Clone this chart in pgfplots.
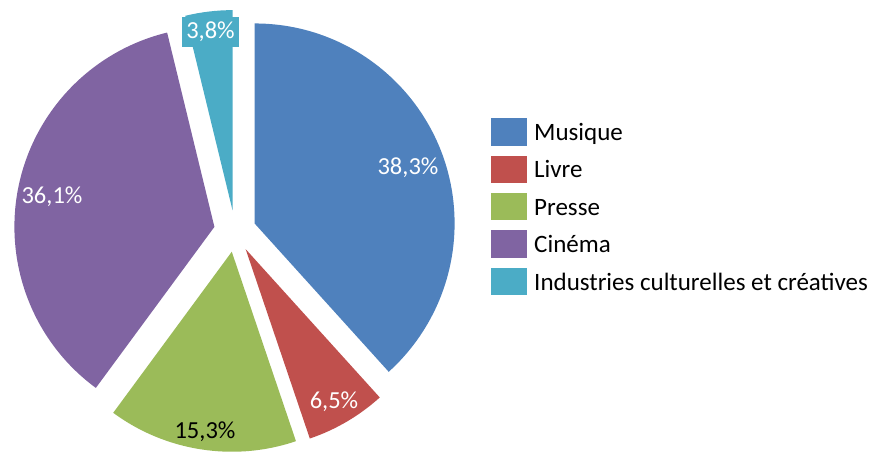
\documentclass[border=0pt]{standalone}
\usepackage{pgfplots}
\pgfplotsset{compat=1.18}
\usepackage{pgfplotstable}
\usepackage{fontspec}
\setmainfont{Carlito}
\definecolor{cMus}{HTML}{4F81BD}
\definecolor{cLiv}{HTML}{C0504D}
\definecolor{cPre}{HTML}{9BBB59}
\definecolor{cCin}{HTML}{8064A2}
\definecolor{cInd}{HTML}{4BACC6}
\tikzset{
  lblfont/.style={font=\fontsize{24.5}{28}\selectfont, inner xsep=4.5pt, inner ysep=5.5pt},
  legfont/.style={font=\fontsize{25}{29}\selectfont, inner sep=0pt, anchor=base west},
}
% pie data: share (%), colour, label text, label centre (px from left, px from top), text colour, label fill
\pgfplotstableread[col sep=semicolon]{
name;value;col;lab;lx;ly;tc;lf
Musique;38.3;cMus;38,3;408;168;white;none
Livre;6.5;cLiv;6,5;334;402;white;none
Presse;15.3;cPre;15,3;205;432;black;none
Cinéma;36.1;cCin;36,1;52;197;white;none
Industries culturelles et créatives;3.8;cInd;3,8;210.5;32;white;cInd
}\piedata
\begin{document}
\begin{tikzpicture}
\begin{axis}[hide axis, x=1pt, y=1pt, xmin=0, xmax=872, ymin=0, ymax=452,
  scale only axis, clip=false]
\def\cum{0}
\pgfplotsforeachungrouped \i in {0,...,4}{%
  \pgfplotstablegetelem{\i}{value}\of\piedata \let\v\pgfplotsretval
  \pgfplotstablegetelem{\i}{col}\of\piedata \let\col\pgfplotsretval
  \pgfmathsetmacro\aStart{90-3.6*\cum}%
  \pgfmathsetmacro\aEnd{90-3.6*(\cum+\v)}%
  \pgfmathsetmacro\aMid{(\aStart+\aEnd)/2}%
  \pgfmathsetmacro\px{235+21*cos(\aMid)}%
  \pgfmathsetmacro\py{221+21*sin(\aMid)}%
  \edef\temp{\noexpand\fill[\col] (axis cs:\px,\py) -- ++(\aStart:200pt)
     arc[start angle=\aStart, end angle=\aEnd, radius=200pt] -- cycle;}%
  \temp
  \pgfmathsetmacro\cum{\cum+\v}%
}
\pgfplotsforeachungrouped \i in {0,...,4}{%
  \pgfplotstablegetelem{\i}{lab}\of\piedata \let\lab\pgfplotsretval
  \pgfplotstablegetelem{\i}{lx}\of\piedata \let\lx\pgfplotsretval
  \pgfplotstablegetelem{\i}{ly}\of\piedata \let\ly\pgfplotsretval
  \pgfplotstablegetelem{\i}{tc}\of\piedata \let\tc\pgfplotsretval
  \pgfplotstablegetelem{\i}{lf}\of\piedata \let\lf\pgfplotsretval
  \pgfplotstablegetelem{\i}{name}\of\piedata \let\nm\pgfplotsretval
  \pgfplotstablegetelem{\i}{col}\of\piedata \let\col\pgfplotsretval
  \pgfmathsetmacro\lyy{452-\ly}%
  \pgfmathsetmacro\rc{452-(132+37.4*\i)}%
  \pgfmathsetmacro\rb{\rc-13.7}%
  \pgfmathsetmacro\tb{\rc-8.5}%
  \edef\temp{%
    \noexpand\node[lblfont, text=\tc, fill=\lf] at (axis cs:\lx,\lyy) {\lab\noexpand\%};
    \noexpand\fill[\col] (axis cs:491,\rb) rectangle ++(35.7pt,27.4pt);
    \noexpand\node[legfont] at (axis cs:534,\tb) {\nm};
  }%
  \temp
}
\end{axis}
\pgfresetboundingbox
\useasboundingbox (current axis.south west) rectangle (current axis.north east);
\end{tikzpicture}
\end{document}
